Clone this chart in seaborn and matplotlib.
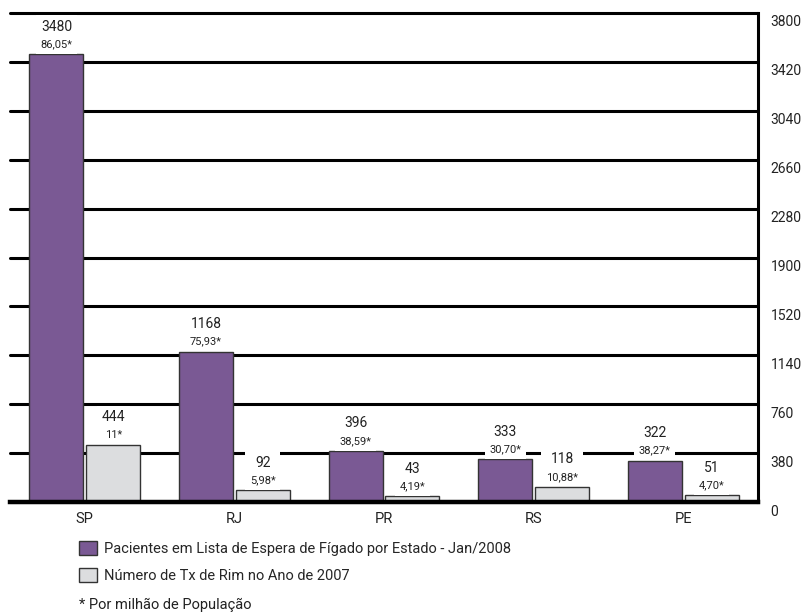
import matplotlib
matplotlib.use("Agg")
import matplotlib.pyplot as plt
import matplotlib.transforms as mtransforms
from matplotlib.offsetbox import TextArea, VPacker, AnnotationBbox
import seaborn as sns
import pandas as pd

# ---- data ----
estados = ["SP", "RJ", "PR", "RS", "PE"]
figado = [3480, 1168, 396, 333, 322]
figado_pmp = ["86,05", "75,93", "38,59", "30,70", "38,27"]
rim = [444, 92, 43, 118, 51]
rim_pmp = ["11", "5,98", "4,19", "10,88", "4,70"]
serie_figado = "Pacientes em Lista de Espera de Fígado por Estado - Jan/2008"
serie_rim = "Número de Tx de Rim no Ano de 2007"
nota = "* Por milhão de População"
yticks = list(range(0, 3801, 380))

purple = "#7B4F9E"
gray = "#DCDDDF"

sns.set_theme(style="white")
plt.rcParams["font.family"] = ["Liberation Sans Narrow", "Roboto", "DejaVu Sans"]

df = pd.DataFrame({
    "Estado": estados * 2,
    "Valor": figado + rim,
    "Serie": [serie_figado] * len(estados) + [serie_rim] * len(estados),
})

fig = plt.figure(figsize=(8.07, 6.12), dpi=100)
ax = fig.add_axes([10 / 807, 1 - 502 / 612, 748 / 807, 489 / 612])

sns.barplot(data=df, x="Estado", y="Valor", hue="Serie",
            palette=[purple, gray], width=0.76, gap=0.05,
            edgecolor="#333333", linewidth=1.0, ax=ax, zorder=2)

ax.set_ylim(0, 3800)
ax.set_xlim(-0.5, len(estados) - 0.5)
ax.set_xlabel("")
ax.set_ylabel("")
ax.set_yticks(yticks)
ax.set_yticklabels([str(v) for v in yticks])
ax.yaxis.tick_right()
ax.tick_params(axis="y", length=0, pad=9, labelsize=10, colors="#222222")
ax.tick_params(axis="x", length=0, pad=7, labelsize=10.5, colors="#222222")

ax.grid(axis="y", color="black", linewidth=2.2, zorder=1)
ax.set_axisbelow(True)
for gl in ax.get_ygridlines():
    gl.set_clip_on(False)

for s in ["top", "left"]:
    ax.spines[s].set_visible(False)
ax.spines["right"].set_color("black")
ax.spines["right"].set_linewidth(2.2)
ax.spines["bottom"].set_color("black")
ax.spines["bottom"].set_linewidth(3.2)

off = mtransforms.ScaledTranslation(0, -0.08, fig.dpi_scale_trans)
for lbl in ax.get_yticklabels():
    lbl.set_transform(lbl.get_transform() + off)

# value labels
for container, vals, pmps in zip(ax.containers, [figado, rim], [figado_pmp, rim_pmp]):
    for bar, v, p in zip(container, vals, pmps):
        x = bar.get_x() + bar.get_width() / 2
        h = bar.get_height()
        t1 = TextArea(str(v), textprops=dict(size=10, color="#222222"))
        t2 = TextArea(p + "*", textprops=dict(size=8, color="#222222"))
        pack = VPacker(children=[t1, t2], align="center", pad=0, sep=4)
        ab = AnnotationBbox(pack, (x, h), xybox=(0, 3.6), xycoords="data",
                            boxcoords="offset points", box_alignment=(0.5, 0),
                            frameon=True, pad=0.3,
                            bboxprops=dict(facecolor="white", edgecolor="none"))
        ab.set_zorder(5)
        ax.add_artist(ab)

sns.move_legend(ax, "upper left", bbox_to_anchor=(79 / 807, 1 - 541 / 612),
                bbox_transform=fig.transFigure, frameon=False, title=None,
                fontsize=10.5, handlelength=1.2, handleheight=1.1,
                labelspacing=0.85, handletextpad=0.5, borderpad=0,
                borderaxespad=0)

fig.text(79 / 807, 1 - 605 / 612, nota, va="center", ha="left",
         fontsize=10.5, color="#222222")

fig.savefig("out.png", dpi=100)
